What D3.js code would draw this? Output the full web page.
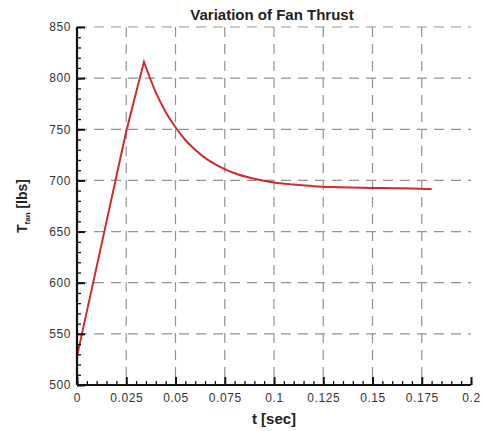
<!DOCTYPE html>
<html>
<head>
<meta charset="utf-8">
<script src="https://cdn.jsdelivr.net/npm/d3@7"></script>
<style>
  html, body { margin: 0; padding: 0; background: #fff; }
  svg { display: block; font-family: "Liberation Sans", Arial, sans-serif; }
</style>
</head>
<body>
<svg id="chart" width="482" height="431"></svg>
<script>
// Fan thrust history: time (s) and thrust (lbs)
const timeSec = [0, 0.005, 0.01, 0.015, 0.02, 0.025, 0.03, 0.034,
  0.04, 0.045, 0.05, 0.055, 0.06, 0.065, 0.07, 0.075, 0.08, 0.09,
  0.1, 0.11, 0.12, 0.13, 0.14, 0.15, 0.16, 0.17, 0.18];
const thrustLbs = [528, 572, 616, 660, 704, 748, 786, 816,
  786, 767, 752, 739.5, 730, 722, 716, 711, 707, 701.6,
  698, 696, 694.4, 693.5, 693, 692.6, 692.4, 692.2, 691.5];

const xTicks = [0, 0.025, 0.05, 0.075, 0.1, 0.125, 0.15, 0.175, 0.2];
const xTickLabels = ["0", "0.025", "0.05", "0.075", "0.1", "0.125", "0.15", "0.175", "0.2"];
const yTicks = [500, 550, 600, 650, 700, 750, 800, 850];

const svg = d3.select("#chart");
const plotL = 77, plotR = 471, plotT = 27, plotB = 385;

const x = d3.scaleLinear().domain([0, 0.2]).range([plotL, plotR]);
const y = d3.scaleLinear().domain([500, 850]).range([plotB, plotT]);

// dashed grid
const grid = svg.append("g")
  .attr("stroke", "#939393").attr("stroke-width", 1.2)
  .attr("stroke-dasharray", "10,7");
grid.selectAll("line.v").data(xTicks.slice(1, -1)).join("line")
  .attr("class", "v")
  .attr("x1", d => x(d)).attr("x2", d => x(d))
  .attr("y1", plotT).attr("y2", plotB);
grid.selectAll("line.h").data(yTicks.slice(1)).join("line")
  .attr("class", "h")
  .attr("x1", plotL).attr("x2", plotR)
  .attr("y1", d => y(d)).attr("y2", d => y(d));

// thrust curve: linear ramp up to the peak, smooth decay after it
const pts = timeSec.map((t, i) => [t, thrustLbs[i]]);
const peakIdx = thrustLbs.indexOf(d3.max(thrustLbs));
const rampLine = d3.line().x(d => x(d[0])).y(d => y(d[1]));
const decayLine = d3.line().x(d => x(d[0])).y(d => y(d[1])).curve(d3.curveMonotoneX);
const decayPath = decayLine(pts.slice(peakIdx));
svg.append("path")
  .attr("fill", "none")
  .attr("stroke", "#d02a2a")
  .attr("stroke-width", 2)
  .attr("stroke-linejoin", "miter")
  .attr("d", rampLine(pts.slice(0, peakIdx + 1)) + "L" + decayPath.slice(1));

// axes: ticks pointing inward
const xMinor = d3.range(0, 0.2001, 0.005);
const yMinor = d3.range(500, 850.1, 10);

svg.append("g").attr("transform", `translate(0,${plotB})`)
  .call(d3.axisBottom(x).tickValues(xMinor).tickSize(-4).tickFormat(""))
  .call(g => g.select(".domain").remove());
const xMajor = svg.append("g").attr("transform", `translate(0,${plotB})`)
  .call(d3.axisBottom(x).tickValues(xTicks).tickSize(-8).tickPadding(8)
    .tickFormat((d, i) => xTickLabels[i]));

svg.append("g").attr("transform", `translate(${plotL},0)`)
  .call(d3.axisLeft(y).tickValues(yMinor).tickSize(-4).tickFormat(""))
  .call(g => g.select(".domain").remove());
const yMajor = svg.append("g").attr("transform", `translate(${plotL},0)`)
  .call(d3.axisLeft(y).tickValues(yTicks).tickSize(-8).tickPadding(6)
    .tickFormat(d3.format("d")));

svg.selectAll(".tick line").attr("stroke", "#111").attr("stroke-width", 1.3);
xMajor.selectAll(".tick line").attr("stroke-width", 2);
yMajor.selectAll(".tick line").attr("stroke-width", 2);
svg.selectAll(".domain").attr("stroke", "#111").attr("stroke-width", 2.2);
xMajor.select(".domain").attr("d", `M${plotL},0H${plotR}`);
yMajor.select(".domain").attr("d", `M0,${plotB}V${plotT}`);
svg.selectAll(".tick text")
  .attr("font-family", "'Liberation Sans', Arial, sans-serif")
  .attr("font-size", 12).attr("letter-spacing", 0.6).attr("fill", "#333");
xMajor.selectAll(".tick text").attr("dy", "0.71em");

// titles
svg.append("text").attr("x", 272).attr("y", 20)
  .attr("text-anchor", "middle").attr("font-weight", "bold")
  .attr("font-size", 15).attr("fill", "#222")
  .text("Variation of Fan Thrust");

svg.append("text").attr("x", 274).attr("y", 424)
  .attr("text-anchor", "middle").attr("font-weight", "bold")
  .attr("font-size", 15).attr("fill", "#222")
  .text("t [sec]");

const yTitle = svg.append("text")
  .attr("transform", "translate(27,206) rotate(-90)")
  .attr("text-anchor", "middle").attr("font-weight", "bold")
  .attr("font-size", 14).attr("fill", "#222");
yTitle.append("tspan").text("T");
yTitle.append("tspan").attr("font-size", 8).attr("dy", 3).text("fan");
yTitle.append("tspan").attr("dy", -3).text(" [lbs]");
</script>
</body>
</html>
